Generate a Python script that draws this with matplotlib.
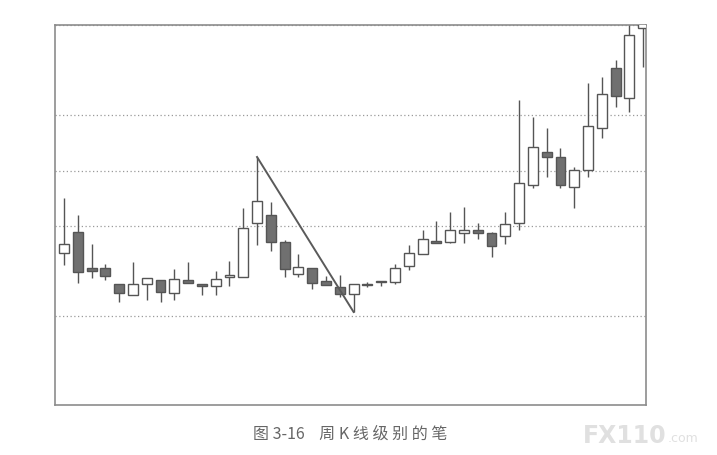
import matplotlib
matplotlib.use("Agg")
import matplotlib.pyplot as plt
from matplotlib.patches import Rectangle

# weekly candles (arbitrary price units)
opens  = [152, 173, 137, 137, 121, 110, 121, 125, 112, 125, 121, 119, 128, 128,
          182, 190, 163, 131, 137, 124, 118, 111, 121, 123, 123, 139, 151, 164,
          163, 172, 175, 172, 169, 182, 220, 253, 248, 218, 235, 277, 337, 307, 377]
highs  = [207, 190, 161, 141, 121, 143, 127, 125, 136, 143, 121, 134, 144, 197,
          248, 203, 165, 151, 137, 129, 130, 121, 123, 124, 141, 160, 175, 184,
          193, 198, 182, 173, 193, 305, 288, 277, 257, 238, 322, 328, 345, 392, 405]
lows   = [140, 122, 127, 125, 103, 110, 105, 103, 105, 122, 110, 110, 119, 128,
          160, 154, 128, 128, 116, 120, 108, 93, 118, 119, 121, 135, 151, 162,
          162, 162, 166, 148, 161, 175, 217, 228, 217, 197, 228, 267, 298, 293, 338]
closes = [161, 133, 134, 129, 112, 121, 127, 113, 126, 122, 119, 126, 130, 177,
          204, 163, 136, 138, 122, 120, 111, 121, 120, 124, 137, 152, 166, 162,
          175, 175, 172, 159, 181, 222, 258, 248, 220, 235, 279, 311, 309, 370, 400]

# the "bi" stroke: from the high of week 15 down to the low of week 22
stroke_idx = [14, 21]
grid_levels = [89, 179, 234, 290, 380]

edge = "#555555"
fill_down = "#707070"

fig = plt.figure(figsize=(7.17, 4.55), dpi=100)
ax = fig.add_axes([55 / 717, 50 / 455, 591 / 717, 380 / 455])

width = 0.72
for i in range(len(opens)):
    o, h, l, c = opens[i], highs[i], lows[i], closes[i]
    ax.vlines(i, l, h, color=edge, lw=1.0, zorder=2)
    lo_b = min(o, c)
    hb = max(abs(c - o), 1.5)
    if c >= o:
        rect = Rectangle((i - width / 2, lo_b), width, hb, facecolor="white",
                         edgecolor=edge, lw=1.0, zorder=3)
    else:
        rect = Rectangle((i - width / 2, lo_b), width, hb, facecolor=fill_down,
                         edgecolor=edge, lw=1.0, zorder=3)
    ax.add_patch(rect)

# stroke line
ax.plot(stroke_idx, [highs[stroke_idx[0]], lows[stroke_idx[1]]],
        color="#5a5a5a", lw=1.4, zorder=4)

for g in grid_levels:
    ax.axhline(g, color="#9a9a9a", lw=0.9, linestyle=(0, (1, 2)), zorder=1)

ax.set_xlim(-0.65, 42.2)
ax.set_ylim(0, 380)
ax.set_xticks([])
ax.set_yticks([])
for s in ax.spines.values():
    s.set_color("#8c8c8c")
    s.set_linewidth(1.2)

fig.text(350 / 717, 1 - 434 / 455, "图 3-16    周 K 线 级 别 的 笔", ha="center", va="center",
         fontsize=11.5, color="#666666", family=["Noto Sans CJK SC", "DejaVu Sans"])

# watermark
fig.text(583 / 717, 1 - 436 / 455, "FX110", ha="left", va="center",
         fontsize=17, fontweight="bold", color="#e0e0e0")
fig.text(668 / 717, 1 - 439 / 455, ".com", ha="left", va="center",
         fontsize=9, color="#e0e0e0")

fig.savefig("out.png", dpi=100)
